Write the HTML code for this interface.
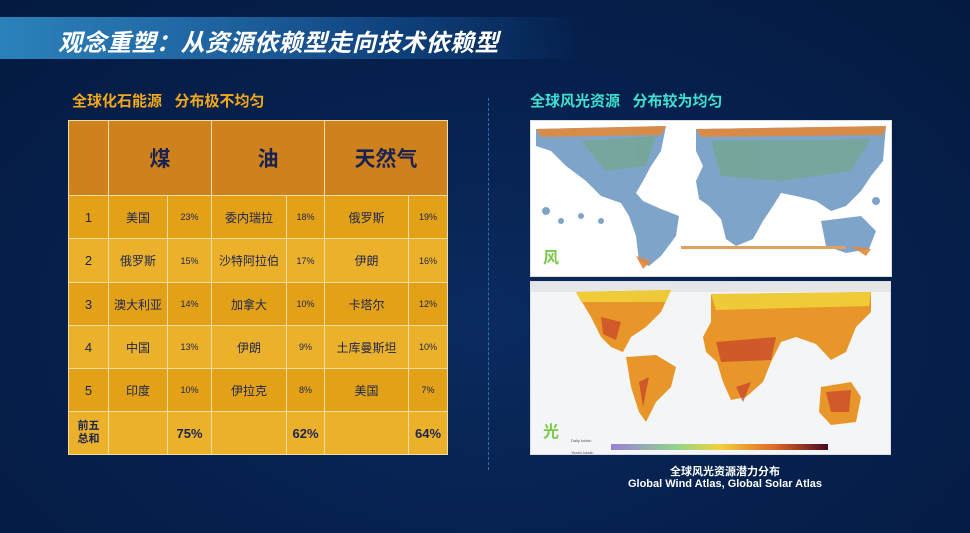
<!DOCTYPE html>
<html><head><meta charset="utf-8"><style>
*{margin:0;padding:0;box-sizing:border-box}
body{width:970px;height:533px;overflow:hidden;background:radial-gradient(ellipse at 50% 60%,#0b2a5e 0%,#06214f 50%,#041a40 100%);font-family:"Liberation Sans","Noto Sans CJK SC",sans-serif;position:relative}
.banner{position:absolute;left:0;top:17px;width:970px;height:42px;background:linear-gradient(90deg,#2b82bb 0%,#1f64a0 22%,#0e3f7a 42%,rgba(6,33,79,0) 60%)}
.title{position:absolute;left:58px;top:23px;color:#fff;font-size:24px;font-weight:bold;font-style:italic;letter-spacing:0.5px;white-space:nowrap}
.sub{position:absolute;top:90px;font-size:15px;font-weight:bold;white-space:nowrap}
.dash{position:absolute;left:488px;top:98px;height:372px;border-left:1.5px dashed #2d6fb0}
table{position:absolute;left:68px;top:120px;border-collapse:collapse;color:#1c2552}
td{border:1.5px solid #f3dca0;text-align:center;font-size:12px;padding:0}
.h td{background:#cf811e;font-size:21px;font-weight:bold;color:#1a2350;height:75px}
.d td{background:#e2a116}
.l td{background:#ecb12a}
.p{font-size:9px}
.n{font-size:13px}
.t td{font-size:13px;font-weight:bold}
.map{position:absolute;border:1px solid #ddd;background:#fff;overflow:hidden}
.cap{position:absolute;left:600px;width:250px;text-align:center;color:#fff;font-weight:bold;font-size:11px}
</style></head><body>
<div class="banner"></div>
<div class="title">观念重塑：从资源依赖型走向技术依赖型</div>
<div class="sub" style="left:72px;color:#f2a81c">全球化石能源&nbsp;&nbsp;&nbsp;分布极不均匀</div>
<div class="sub" style="left:530px;color:#40e0cf">全球风光资源&nbsp;&nbsp;&nbsp;分布较为均匀</div>
<div class="dash"></div>
<table>
<colgroup><col style="width:40px"><col style="width:59px"><col style="width:44px"><col style="width:75px"><col style="width:38px"><col style="width:84px"><col style="width:39px"></colgroup>
<tr class="h"><td></td><td colspan="2">煤</td><td colspan="2">油</td><td colspan="2">天然气</td></tr>
<tr class="d" style="height:43px"><td class="n">1</td><td>美国</td><td class="p">23%</td><td>委内瑞拉</td><td class="p">18%</td><td>俄罗斯</td><td class="p">19%</td></tr>
<tr class="l" style="height:44px"><td class="n">2</td><td>俄罗斯</td><td class="p">15%</td><td>沙特阿拉伯</td><td class="p">17%</td><td>伊朗</td><td class="p">16%</td></tr>
<tr class="d" style="height:43px"><td class="n">3</td><td>澳大利亚</td><td class="p">14%</td><td>加拿大</td><td class="p">10%</td><td>卡塔尔</td><td class="p">12%</td></tr>
<tr class="l" style="height:43px"><td class="n">4</td><td>中国</td><td class="p">13%</td><td>伊朗</td><td class="p">9%</td><td>土库曼斯坦</td><td class="p">10%</td></tr>
<tr class="d" style="height:43px"><td class="n">5</td><td>印度</td><td class="p">10%</td><td>伊拉克</td><td class="p">8%</td><td>美国</td><td class="p">7%</td></tr>
<tr class="l t" style="height:43px"><td style="font-size:11px;line-height:13px">前五<br>总和</td><td></td><td>75%</td><td></td><td>62%</td><td></td><td>64%</td></tr>
</table>
<div class="map" style="left:530px;top:120px;width:362px;height:157px">
<svg width="362" height="157">
<g fill="#7ea5c9">
<path d="M5 8 L135 5 L130 30 L120 45 L112 60 L105 72 L112 80 L130 88 L148 95 L145 115 L130 135 L118 145 L108 140 L105 115 L98 95 L90 82 L70 75 L55 60 L35 45 L20 30 L5 25 Z"/>
<path d="M165 8 L355 5 L352 40 L340 55 L330 70 L315 85 L300 90 L285 80 L265 75 L250 72 L242 85 L232 100 L222 118 L205 125 L195 118 L190 98 L178 85 L168 78 L165 60 L172 45 L165 30 Z"/>
<path d="M290 100 L330 95 L345 110 L338 128 L315 132 L295 125 Z"/>
<circle cx="15" cy="90" r="4"/><circle cx="30" cy="100" r="3"/><circle cx="50" cy="95" r="3"/><circle cx="70" cy="100" r="3"/><circle cx="330" cy="60" r="4"/><circle cx="345" cy="80" r="4"/>
</g>
<g fill="#6fa878" opacity="0.55"><path d="M50 20 L125 15 L115 45 L75 50 Z"/><path d="M180 20 L340 18 L320 50 L250 60 L190 55Z"/></g>
<g fill="#e2893b" opacity="0.9"><path d="M5 8 L135 5 L130 14 L10 16 Z"/><path d="M165 8 L355 5 L352 14 L170 16Z"/><path d="M105 135 L120 140 L112 148Z"/><path d="M320 125 L340 128 L335 135Z"/></g>
<rect x="150" y="125" width="165" height="3" fill="#e0a060"/>
<text x="12" y="142" font-size="16" font-weight="bold" fill="#7cc84a" font-family="Noto Sans CJK SC,sans-serif">风</text>
</svg></div>
<div class="map" style="left:530px;top:281px;width:361px;height:174px;background:#f4f5f7">
<svg width="361" height="174">
<rect x="0" y="0" width="361" height="10" fill="#e6e6e6"/>
<g fill="#e8962a">
<path d="M45 10 L140 8 L130 30 L115 45 L100 55 L92 70 L80 65 L70 55 L60 35 Z"/>
<path d="M95 75 L125 73 L145 85 L140 105 L125 120 L115 140 L108 130 L100 105 Z"/>
<path d="M180 12 L340 10 L340 30 L325 45 L315 70 L300 78 L285 62 L265 55 L250 60 L240 80 L232 100 L215 115 L200 118 L192 100 L186 80 L175 70 L172 55 L180 40 Z"/>
<path d="M290 105 L320 100 L330 115 L325 140 L300 143 L288 130 Z"/>
</g>
<g fill="#f0d03a" opacity="0.9"><path d="M180 12 L340 10 L338 24 L185 28Z"/><path d="M45 10 L140 8 L135 20 L50 20Z"/></g>
<g fill="#c8452a" opacity="0.75"><path d="M185 60 L245 55 L240 78 L190 80Z"/><path d="M70 35 L90 40 L85 58 L72 52Z"/><path d="M205 105 L220 100 L212 120Z"/><path d="M108 100 L118 95 L112 125Z"/><path d="M295 110 L320 108 L318 130 L300 130Z"/></g>
<text x="12" y="155" font-size="16" font-weight="bold" fill="#7cc84a" font-family="Noto Sans CJK SC,sans-serif">光</text>
<defs><linearGradient id="g"><stop offset="0" stop-color="#9b7fd8"/><stop offset="0.3" stop-color="#8fd68a"/><stop offset="0.5" stop-color="#f2d23a"/><stop offset="0.75" stop-color="#e06a2a"/><stop offset="1" stop-color="#4a0a20"/></linearGradient></defs>
<rect x="80" y="162" width="217" height="6" fill="url(#g)"/>
<text x="40" y="160" font-size="4" fill="#555">Daily totals:</text>
<text x="40" y="172" font-size="4" fill="#555">Yearly totals:</text>
</svg></div>
<div class="cap" style="top:463px">全球风光资源潜力分布</div>
<div class="cap" style="top:478px">Global Wind Atlas, Global Solar Atlas</div>
</body></html>
